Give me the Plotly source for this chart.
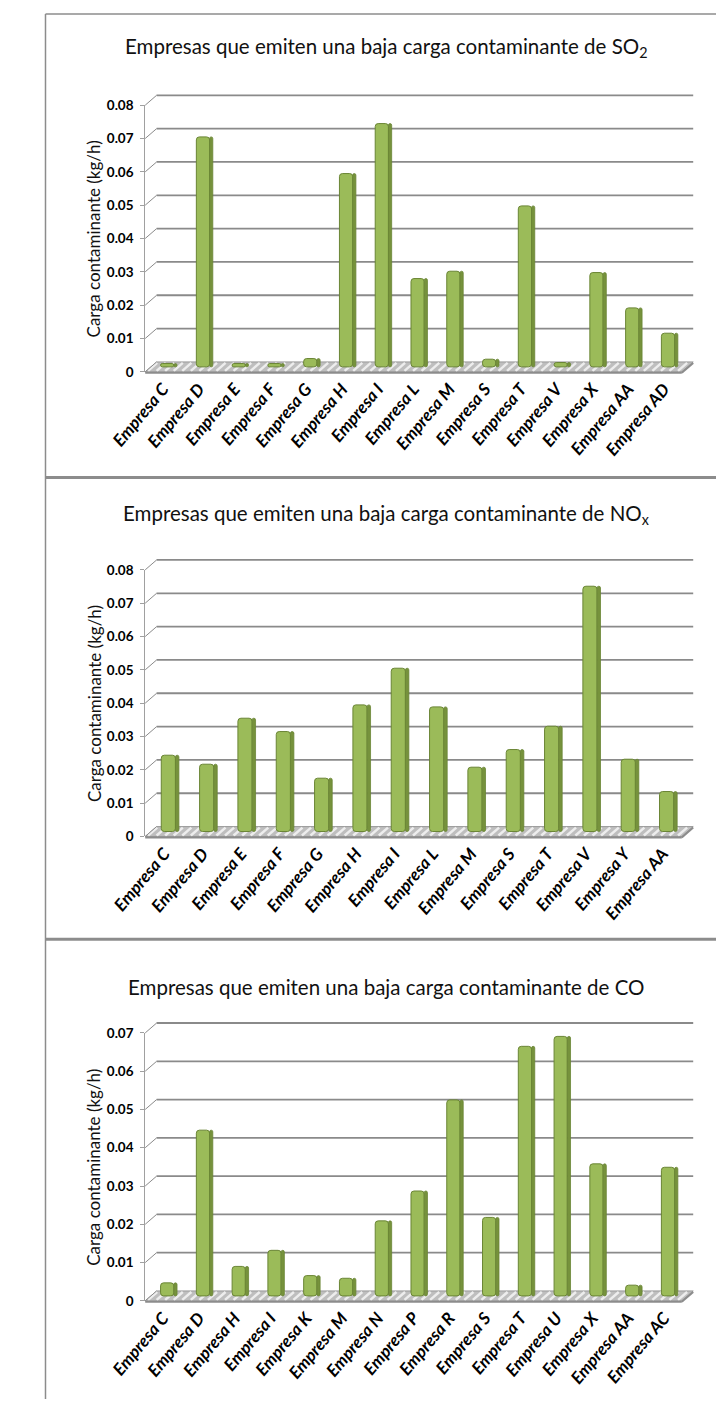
import plotly.graph_objects as go

# ---------------- data ----------------
so2_cats = ["Empresa C", "Empresa D", "Empresa E", "Empresa F", "Empresa G", "Empresa H",
            "Empresa I", "Empresa L", "Empresa M", "Empresa S", "Empresa T", "Empresa V",
            "Empresa X", "Empresa AA", "Empresa AD"]
so2_vals = [0.001, 0.069, 0.001, 0.001, 0.0025, 0.058, 0.073, 0.0265, 0.0287, 0.0023,
            0.0483, 0.0013, 0.0283, 0.0177, 0.0101]

nox_cats = ["Empresa C", "Empresa D", "Empresa E", "Empresa F", "Empresa G", "Empresa H",
            "Empresa I", "Empresa L", "Empresa M", "Empresa S", "Empresa T", "Empresa V",
            "Empresa Y", "Empresa AA"]
nox_vals = [0.0229, 0.0202, 0.034, 0.030, 0.016, 0.038, 0.049, 0.0374, 0.0193, 0.0246,
            0.0316, 0.0736, 0.0217, 0.012]

co_cats = ["Empresa C", "Empresa D", "Empresa H", "Empresa I", "Empresa K", "Empresa M",
           "Empresa N", "Empresa P", "Empresa R", "Empresa S", "Empresa T", "Empresa U",
           "Empresa X", "Empresa AA", "Empresa AC"]
co_vals = [0.0034, 0.0433, 0.0077, 0.0119, 0.0053, 0.0046, 0.0196, 0.0274, 0.0512, 0.0205,
           0.0652, 0.0678, 0.0345, 0.0028, 0.0336]

titles = ["Empresas que emiten una baja carga contaminante de SO<sub>2</sub>",
          "Empresas que emiten una baja carga contaminante de NO<sub>x</sub>",
          "Empresas que emiten una baja carga contaminante de CO"]
y_title = "Carga contaminante (kg/h)"
y_max = [0.08, 0.08, 0.07]

# ---------------- layout geometry (pixels) ----------------
W, H = 716, 1407
X_LEFT, X_RIGHT = 115, 680
DX, DY = 12, 10
geo = [dict(y0=368.0, ytop=98.3, ty=40),
       dict(y0=838.0, ytop=568.3, ty=512),
       dict(y0=1307.7, ytop=1036.7, ty=990)]

FONT = "Lato"
GREEN = "#9BBB59"
GREEN_SIDE = "#76923C"
GREEN_EDGE = "#6A8535"
GRID = "#8A8A8A"


def px(x):
    return x / W


def py(y):
    return 1 - y / H


fig = go.Figure()
shapes = []
annotations = []
layout_axes = {}

series = [(so2_cats, so2_vals), (nox_cats, nox_vals), (co_cats, co_vals)]

for i, ((cats, vals), g, ttl, ymx) in enumerate(zip(series, geo, titles, y_max), start=1):
    n = len(cats)
    catpx = (X_RIGHT - X_LEFT) / n
    pxper = (g["y0"] - g["ytop"]) / ymx
    lift = 5 / pxper
    shift = 6 / catpx
    xa = "x" if i == 1 else f"x{i}"
    ya = "y" if i == 1 else f"y{i}"

    fig.add_trace(go.Bar(
        x=cats, y=vals, base=lift, width=0.37, offset=-0.23 + shift,
        marker=dict(color=GREEN, line=dict(color=GREEN_EDGE, width=1), cornerradius=3),
        xaxis=xa, yaxis=ya, showlegend=False, hoverinfo="x+y"))
    fig.add_trace(go.Bar(
        x=cats, y=vals, base=lift, width=0.09, offset=0.14 + shift,
        marker=dict(color=GREEN_SIDE, line=dict(color=GREEN_EDGE, width=0.8), cornerradius=2),
        xaxis=xa, yaxis=ya, showlegend=False, hoverinfo="skip"))

    layout_axes["xaxis" if i == 1 else f"xaxis{i}"] = dict(
        domain=[px(X_LEFT), px(X_RIGHT)], range=[-0.5, n - 0.5], anchor=ya,
        type="category", showgrid=False, showline=False, zeroline=False, ticks="",
        tickangle=-50, ticklabelstandoff=3,
        tickfont=dict(family=FONT, size=17, color="#000", weight="bold", style="italic"))
    layout_axes["yaxis" if i == 1 else f"yaxis{i}"] = dict(
        domain=[py(g["y0"]), py(g["ytop"])], range=[0, ymx], dtick=0.01, anchor=xa,
        showgrid=False, zeroline=False, showline=True, linecolor="#A0A0A0", linewidth=1,
        ticks="outside", ticklen=4, tickcolor="#A0A0A0", ticklabelstandoff=4,
        tickfont=dict(family=FONT, size=13.5, color="#000", weight="bold"))

    # floor
    yf0 = g["y0"]
    floor_path = (f"M {px(X_LEFT)},{py(yf0)} L {px(X_RIGHT)},{py(yf0)} "
                  f"L {px(X_RIGHT + DX)},{py(yf0 - DY)} L {px(X_LEFT + DX)},{py(yf0 - DY)} Z")
    shapes.append(dict(type="path", xref="paper", yref="paper", path=floor_path,
                       fillcolor="#BEBEBE", line=dict(color="#9A9A9A", width=1), layer="below"))
    xs = X_LEFT + 3
    while xs < X_RIGHT - 2:
        shapes.append(dict(type="line", xref="paper", yref="paper",
                           x0=px(xs), y0=py(yf0 - 1), x1=px(xs + DX * 0.8), y1=py(yf0 - DY + 1),
                           line=dict(color="#EDEDED", width=2.5), layer="below"))
        xs += 9
    # floor slab front edge
    shapes.append(dict(type="line", xref="paper", yref="paper",
                       x0=px(X_LEFT), y0=py(yf0 + 1), x1=px(X_RIGHT), y1=py(yf0 + 1),
                       line=dict(color="#8C8C8C", width=2), layer="below"))
    shapes.append(dict(type="line", xref="paper", yref="paper",
                       x0=px(X_RIGHT), y0=py(yf0 + 1), x1=px(X_RIGHT + DX), y1=py(yf0 - DY + 1),
                       line=dict(color="#8C8C8C", width=2), layer="below"))

    # back-wall gridlines with depth connectors
    k = 0
    while k * 0.01 <= ymx + 1e-9:
        v = k * 0.01
        yf = g["y0"] - v * pxper
        shapes.append(dict(type="line", xref="paper", yref="paper",
                           x0=px(X_LEFT), y0=py(yf), x1=px(X_LEFT + DX), y1=py(yf - DY),
                           line=dict(color=GRID, width=1), layer="below"))
        if k > 0:
            shapes.append(dict(type="line", xref="paper", yref="paper",
                               x0=px(X_LEFT + DX), y0=py(yf - DY), x1=px(X_RIGHT + DX), y1=py(yf - DY),
                               line=dict(color=GRID, width=1.8), layer="below"))
        k += 1

    # titles
    annotations.append(dict(text=ttl, x=px(369), y=py(g["ty"]), xref="paper", yref="paper",
                            showarrow=False, xanchor="center", yanchor="middle",
                            font=dict(family=FONT, size=20.5, color="#111")))
    annotations.append(dict(text=y_title, x=px(61), y=py((g["y0"] + g["ytop"]) / 2),
                            xref="paper", yref="paper", showarrow=False, textangle=-90,
                            xanchor="center", yanchor="middle",
                            font=dict(family=FONT, size=17, color="#111")))

# panel borders
BORDER = "#8C8C8C"
shapes.append(dict(type="line", xref="paper", yref="paper", x0=px(10), y0=py(6), x1=px(10), y1=0,
                   line=dict(color=BORDER, width=1.5)))
shapes.append(dict(type="line", xref="paper", yref="paper", x0=px(10), y0=py(6), x1=1, y1=py(6),
                   line=dict(color=BORDER, width=1.5)))
for ysep in (475, 942):
    shapes.append(dict(type="line", xref="paper", yref="paper", x0=px(10), y0=py(ysep), x1=1,
                       y1=py(ysep), line=dict(color=BORDER, width=3)))

fig.update_layout(
    width=W, height=H, margin=dict(l=0, r=0, t=0, b=0),
    paper_bgcolor="white", plot_bgcolor="rgba(0,0,0,0)",
    barmode="overlay", showlegend=False,
    shapes=shapes, annotations=annotations,
    **layout_axes)

fig.write_html("out.html", config={"displayModeBar": False},
               post_script="document.body.style.margin='0px';")
